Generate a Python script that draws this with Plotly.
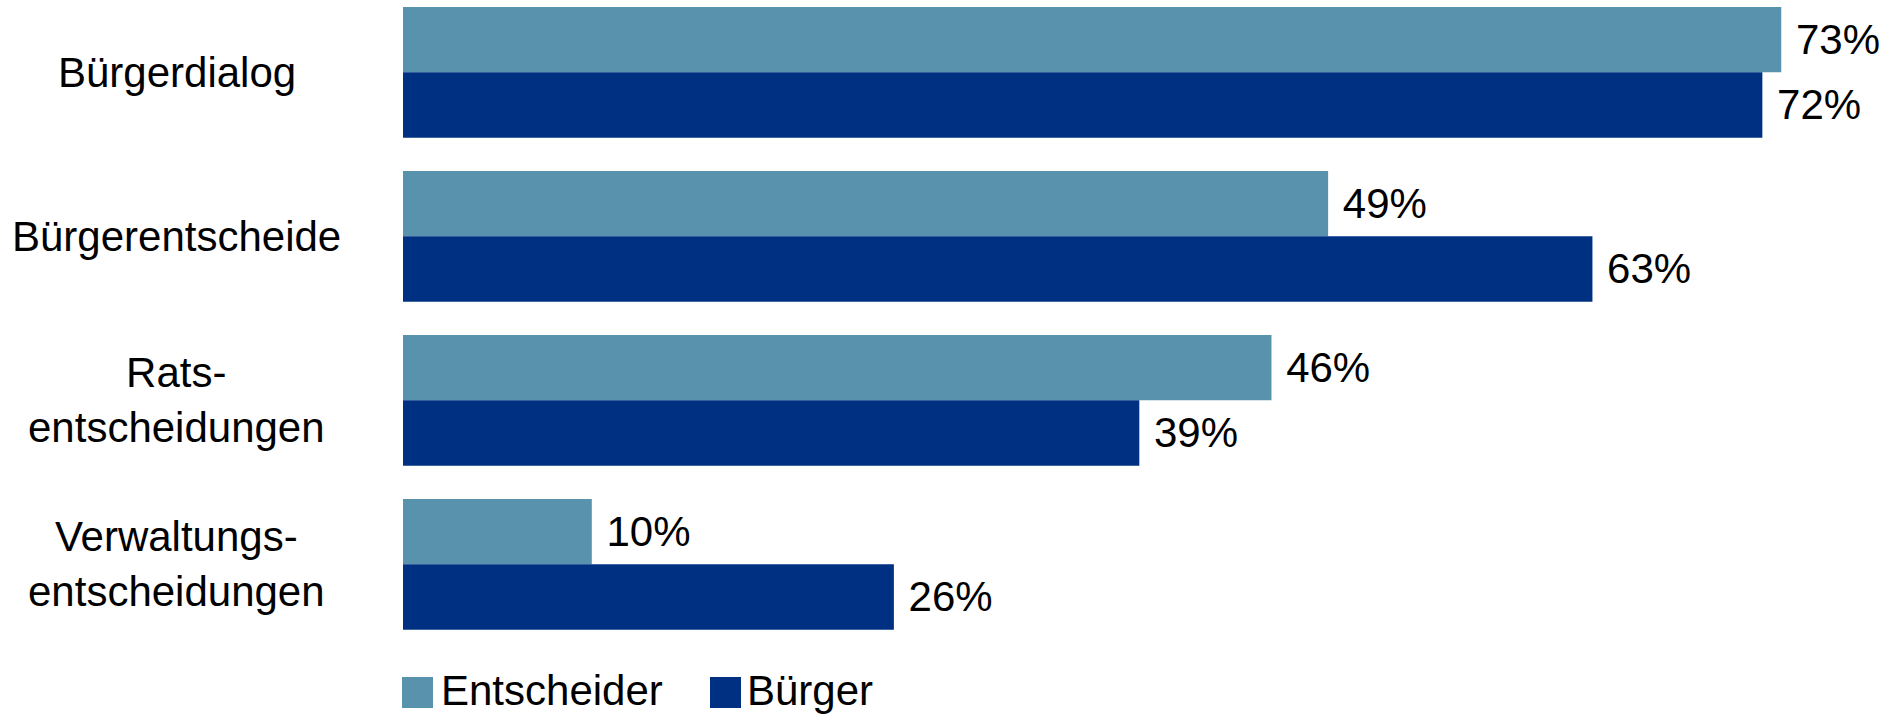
import plotly.graph_objects as go

categories = ["Bürgerdialog", "Bürgerentscheide", "Rats-<br>entscheidungen", "Verwaltungs-<br>entscheidungen"]
entscheider = [73, 49, 46, 10]
buerger = [72, 63, 39, 26]
series_names = ["Entscheider", "Bürger"]
colors = ["#5892AD", "#003082"]

W, H = 1887, 715
FONT = "Liberation Sans, Arial, sans-serif"

fig = go.Figure()
for name, vals, col in zip(series_names, [entscheider, buerger], colors):
    fig.add_trace(go.Bar(
        y=categories, x=vals, orientation="h", name=name,
        marker=dict(color=col, line=dict(width=0)),
        texttemplate="\u00a0%{x}%", textposition="outside",
        textfont=dict(family=FONT, size=42, color="black"),
        constraintext="none", cliponaxis=False, showlegend=False,
        hoverinfo="skip",
    ))

# category labels (centered, multi-line)
for c in categories:
    fig.add_annotation(x=176.5 / W, xref="paper", y=c, yref="y",
                       text=c, showarrow=False, xanchor="center", yanchor="middle",
                       align="center", font=dict(family=FONT, size=42, color="black"))

# legend drawn manually (larger swatches than plotly legend supports)
legend_items = [(402, 433, 439), (710, 741, 745)]
for (x0, x1, tx), name, col in zip(legend_items, series_names, colors):
    fig.add_shape(type="rect", xref="paper", yref="paper",
                  x0=x0 / W, x1=x1 / W, y0=1 - 708 / H, y1=1 - 677 / H,
                  fillcolor=col, line=dict(width=0))
    fig.add_annotation(x=tx / W, xref="paper", y=1 - 690 / H, yref="paper",
                       text=name, showarrow=False, xanchor="left", yanchor="middle",
                       font=dict(family=FONT, size=42, color="black"))

px_per_pct = 18.88
fig.update_layout(
    width=W, height=H,
    margin=dict(l=0, r=0, t=0, b=0),
    paper_bgcolor="white", plot_bgcolor="white",
    barmode="group", bargap=0.203, bargroupgap=0,
    xaxis=dict(domain=[403 / W, 1], range=[0, (W - 403) / px_per_pct],
               showgrid=False, zeroline=False, showticklabels=False, showline=False),
    yaxis=dict(type="category", categoryorder="array", categoryarray=categories,
               range=[(H - 72.3) / 164, -72.3 / 164],
               showgrid=False, zeroline=False, showticklabels=False, showline=False),
    showlegend=False,
)

fig.write_html("out.html", config={"displayModeBar": False})
